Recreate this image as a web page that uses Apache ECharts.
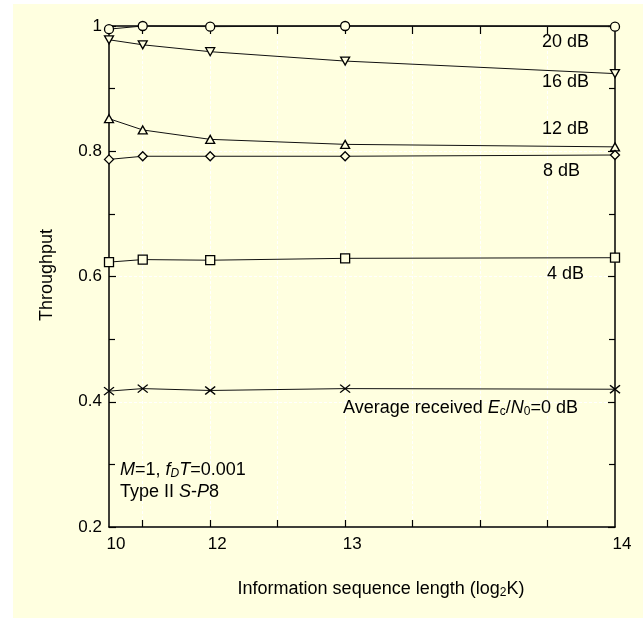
<!DOCTYPE html>
<html>
<head>
<meta charset="utf-8">
<script src="https://cdn.jsdelivr.net/npm/echarts@6/dist/echarts.min.js"></script>
<style>
  html, body { margin: 0; padding: 0; background: #ffffff; }
  #bg { position: absolute; left: 13px; top: 4px; width: 630px; height: 614px; background: #FFFFE0; }
  #chart { position: absolute; left: 0; top: 0; width: 643px; height: 619px; }
</style>
</head>
<body>
<div id="bg"></div>
<div id="chart"></div>
<script>
// Information sequence length K (x axis is linear in K, labelled log2 K)
const seqLengthK = [1024, 2048, 4096, 8192, 16384];
// Throughput for each average received Ec/N0
const thr20dB = [0.995, 1.000, 0.999, 1.000, 0.999];
const thr16dB = [0.978, 0.970, 0.959, 0.944, 0.924];
const thr12dB = [0.852, 0.834, 0.819, 0.811, 0.807];
const thr8dB  = [0.787, 0.792, 0.792, 0.792, 0.794];
const thr4dB  = [0.623, 0.627, 0.626, 0.629, 0.630];
const thr0dB  = [0.417, 0.421, 0.418, 0.421, 0.420];
// Axis ticks
const xTickValues = [2048, 4096, 6144, 8192, 10240, 12288, 14336];
const xLabelValues = [1024, 4096, 8192, 16384];

const FONT = "'Liberation Sans', Arial, Helvetica, sans-serif";
const BG = '#FFFFE0';

function pairs(ys) { return seqLengthK.map((k, i) => [k, ys[i]]); }

function mkSeries(name, ys, symbol, size, rotate) {
  return {
    name: name, type: 'line', data: pairs(ys),
    symbol: symbol, symbolSize: size, symbolRotate: rotate || 0,
    showSymbol: true, clip: false, z: 5,
    lineStyle: { color: '#111', width: 1 },
    itemStyle: { color: BG, borderColor: '#000', borderWidth: 1.3 },
    emphasis: { disabled: true }
  };
}

const richStyles = {
  i: { fontStyle: 'italic', fontSize: 18, fontFamily: FONT, fill: '#000', lineHeight: 20 },
  sub: { fontSize: 12, fontFamily: FONT, fill: '#000', verticalAlign: 'bottom', lineHeight: 12 },
  isub: { fontSize: 12, fontStyle: 'italic', fontFamily: FONT, fill: '#000', verticalAlign: 'bottom', lineHeight: 12 }
};

function txt(x, y, text, extra) {
  return Object.assign({
    type: 'text', z: 10,
    style: {
      x: x, y: y, text: text, fill: '#000',
      font: '18px ' + FONT, lineHeight: 20,
      verticalAlign: 'middle', align: 'left', rich: richStyles
    }
  }, extra || {});
}

const chart = echarts.init(document.getElementById('chart'), null, { renderer: 'canvas' });

const axisLineStyle = { color: '#000', width: 1.5 };

chart.setOption({
  animation: false,
  backgroundColor: 'transparent',
  grid: { left: 109, right: 28, top: 26, bottom: 92 },
  xAxis: [
    {
      type: 'value', position: 'bottom', min: 1024, max: 16384, z: 3,
      axisLine: { show: true, lineStyle: axisLineStyle },
      axisTick: { show: true, inside: true, length: 7, customValues: xTickValues, lineStyle: { color: '#000', width: 1.2 } },
      axisLabel: {
        show: true, customValues: xLabelValues, margin: 9,
        formatter: v => String(Math.round(Math.log2(v))),
        fontSize: 17, fontFamily: FONT, color: '#000', padding: [0, 0, 0, 14]
      },
      splitLine: { show: true, lineStyle: { color: '#ffffff', width: 1, type: [3, 2] } }
    },
    {
      type: 'value', position: 'top', min: 1024, max: 16384, z: 3,
      axisLine: { show: true, lineStyle: axisLineStyle },
      axisTick: { show: true, inside: true, length: 8, customValues: xTickValues, lineStyle: { color: '#000', width: 1.2 } },
      axisLabel: { show: false },
      splitLine: { show: false }
    }
  ],
  yAxis: [
    {
      type: 'value', position: 'left', min: 0.2, max: 1.0, interval: 0.2, z: 1,
      axisLine: { show: true, lineStyle: axisLineStyle },
      axisTick: { show: true, inside: true, length: 7, lineStyle: { color: '#000', width: 1.2 } },
      minorTick: { show: true, splitNumber: 2, length: 6, lineStyle: { color: '#000', width: 1.2 } },
      axisLabel: { show: true, margin: 7, fontSize: 17, fontFamily: FONT, color: '#000' },
      splitLine: { show: true, lineStyle: { color: '#ffffff', width: 1, type: [3, 2] } }
    },
    {
      type: 'value', position: 'right', min: 0.2, max: 1.0, interval: 0.2, z: 3,
      axisLine: { show: true, lineStyle: axisLineStyle },
      axisTick: { show: true, inside: true, length: 7, lineStyle: { color: '#000', width: 1.2 } },
      minorTick: { show: true, splitNumber: 2, length: 6, lineStyle: { color: '#000', width: 1.2 } },
      axisLabel: { show: false },
      splitLine: { show: false }
    }
  ],
  series: [
    mkSeries('20 dB', thr20dB, 'circle', 9),
    mkSeries('16 dB', thr16dB, 'triangle', [9, 8], 180),
    mkSeries('12 dB', thr12dB, 'triangle', [9, 8]),
    mkSeries('8 dB', thr8dB, 'diamond', [9, 9]),
    mkSeries('4 dB', thr4dB, 'rect', 9),
    mkSeries('0 dB', thr0dB, 'path://M0,0L10,10M10,0L0,10', [10, 8])
  ],
  graphic: [
    txt(542, 42, '20 dB'),
    txt(542, 82, '16 dB'),
    txt(542, 129, '12 dB'),
    txt(543, 171, '8 dB'),
    txt(547, 274, '4 dB'),
    txt(343, 408, 'Average received {i|E}{sub|c}/{i|N}{sub|0}=0 dB'),
    txt(120, 470, '{i|M}=1, {i|f}{isub|D}{i|T}=0.001'),
    txt(120, 492, 'Type II {i|S}-{i|P}8'),
    {
      type: 'text', z: 10,
      style: {
        x: 381, y: 589, text: 'Information sequence length (log{sub|2}K)', fill: '#000',
        font: '18px ' + FONT, lineHeight: 20, align: 'center', verticalAlign: 'middle', rich: richStyles
      }
    },
    {
      type: 'text', z: 10, x: 47, y: 275, rotation: Math.PI / 2,
      style: {
        x: 0, y: 0, text: 'Throughput', fill: '#000',
        font: '18px ' + FONT, align: 'center', verticalAlign: 'middle'
      }
    }
  ]
});
</script>
</body>
</html>
